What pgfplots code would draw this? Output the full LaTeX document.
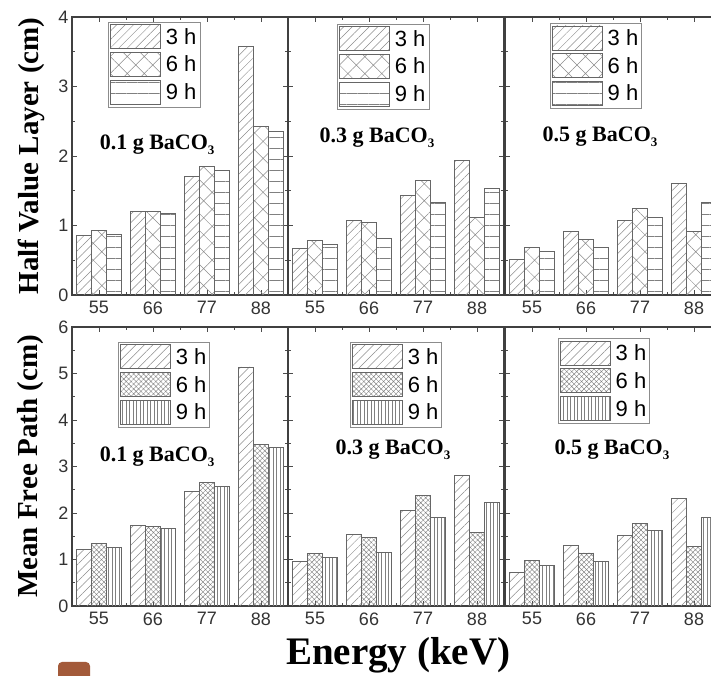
\documentclass[border=0pt]{standalone}
\usepackage{fontspec}
\setmainfont{Liberation Sans}
\newfontfamily\tnr{Liberation Serif}
\usepackage{pgfplots}
\pgfplotsset{compat=1.18}
\usetikzlibrary{patterns.meta}
\definecolor{rust}{HTML}{A35A3A}
\tikzset{plabel/.style={font=\tnr\bfseries\fontsize{22}{24}\selectfont, anchor=center}}
\newcommand{\sub}[1]{\raisebox{-0.45ex}{\fontsize{13}{14}\selectfont #1}}
\pgfplotsset{
  panel/.style={
    ybar=0pt, bar width=15pt, scale only axis, width=216pt,
    xmin=-0.5, xmax=3.5, xtick={0,1,2,3}, xticklabels={55,66,77,88},
    minor x tick num=1, tick align=inside,
    axis line style={line width=1.1pt, draw=black!75},
    major tick length=5pt, minor tick length=3pt,
    tick style={black!70, line width=0.8pt},
    ticklabel style={font=\fontsize{18}{20}\selectfont, text=black!80},
    xticklabel style={yshift=-3pt},
    /pgf/number format/assume math mode=true,
    legend image code/.code={\draw[##1] (0pt,-12pt) rectangle (50pt,12pt);},
    legend cell align=left,
    legend style={anchor=north west, draw=black!45, line width=0.8pt,
      inner sep=2pt, row sep=3pt, font=\fontsize{22}{24}\selectfont,
      nodes={inner sep=1.5pt},
      /tikz/every odd column/.append style={column sep=3pt}},
  },
  toprow/.style={panel, height=278pt, ymin=0, ymax=4, ytick={0,1,2,3,4}, minor y tick num=1},
  botrow/.style={panel, height=279pt, ymin=0, ymax=6, ytick={0,1,2,3,4,5,6}, minor y tick num=1},
  s3/.style={draw=black!60, line width=0.9pt, pattern={Lines[angle=45,distance=6pt,line width=0.5pt]}, pattern color=black!45},
  s6a/.style={draw=black!60, line width=0.9pt, pattern={Hatch[angle=45,distance=12pt,line width=0.5pt]}, pattern color=black!45},
  s9a/.style={draw=black!60, line width=0.9pt, pattern={Lines[angle=0,distance=11pt,line width=0.6pt]}, pattern color=black!50},
  s6b/.style={draw=black!60, line width=0.9pt, pattern={Hatch[angle=45,distance=3.5pt,line width=0.4pt]}, pattern color=black!50},
  s9b/.style={draw=black!60, line width=0.9pt, pattern={Lines[angle=90,distance=3.5pt,line width=0.4pt]}, pattern color=black!50},
}
\begin{document}
\begin{tikzpicture}[x=1pt,y=1pt]
\path[use as bounding box] (0,0) rectangle (711,676);

% ---------- top row ----------
\begin{axis}[toprow, at={(72pt,381pt)}, anchor=south west,
  ylabel={Half Value Layer (cm)},
  ylabel style={at={(axis description cs:-0.19,0.5)}, anchor=center, rotate=0, font=\tnr\bfseries\fontsize{29}{31}\selectfont},
  legend style={at={(0.167,0.982)}}]
\addplot[s3] coordinates {(0,0.85) (1,1.20) (2,1.71) (3,3.57)};
\addplot[s6a] coordinates {(0,0.93) (1,1.20) (2,1.85) (3,2.42)};
\addplot[s9a] coordinates {(0,0.87) (1,1.17) (2,1.79) (3,2.36)};
\legend{3 h,6 h,9 h}
\node[plabel] at (axis description cs:0.394,0.54) {0.1 g BaCO\sub{3}};
\end{axis}

\begin{axis}[toprow, at={(288pt,381pt)}, anchor=south west, yticklabels={},
  legend style={at={(0.227,0.975)}}]
\addplot[s3] coordinates {(0,0.67) (1,1.07) (2,1.43) (3,1.94)};
\addplot[s6a] coordinates {(0,0.79) (1,1.04) (2,1.65) (3,1.11)};
\addplot[s9a] coordinates {(0,0.73) (1,0.81) (2,1.33) (3,1.54)};
\legend{3 h,6 h,9 h}
\node[plabel] at (axis description cs:0.412,0.565) {0.3 g BaCO\sub{3}};
\end{axis}

\begin{axis}[toprow, at={(505pt,381pt)}, anchor=south west, yticklabels={},
  legend style={at={(0.208,0.978)}}]
\addplot[s3] coordinates {(0,0.51) (1,0.91) (2,1.07) (3,1.61)};
\addplot[s6a] coordinates {(0,0.69) (1,0.80) (2,1.24) (3,0.91)};
\addplot[s9a] coordinates {(0,0.62) (1,0.68) (2,1.11) (3,1.33)};
\legend{3 h,6 h,9 h}
\node[plabel] at (axis description cs:0.44,0.568) {0.5 g BaCO\sub{3}};
\end{axis}

% ---------- bottom row ----------
\begin{axis}[botrow, at={(72pt,70pt)}, anchor=south west,
  ylabel={Mean Free Path (cm)},
  ylabel style={at={(axis description cs:-0.19,0.5)}, anchor=center, rotate=0, font=\tnr\bfseries\fontsize{29}{31}\selectfont},
  legend style={at={(0.213,0.946)}}]
\addplot[s3] coordinates {(0,1.21) (1,1.73) (2,2.46) (3,5.14)};
\addplot[s6b] coordinates {(0,1.34) (1,1.72) (2,2.66) (3,3.48)};
\addplot[s9b] coordinates {(0,1.26) (1,1.67) (2,2.58) (3,3.40)};
\legend{3 h,6 h,9 h}
\node[plabel] at (axis description cs:0.394,0.534) {0.1 g BaCO\sub{3}};
\end{axis}

\begin{axis}[botrow, at={(288pt,70pt)}, anchor=south west, yticklabels={},
  xlabel={Energy (keV)},
  xlabel style={at={(axis description cs:0.51,-0.175)}, anchor=center, font=\tnr\bfseries\fontsize{39}{41}\selectfont},
  legend style={at={(0.287,0.946)}}]
\addplot[s3] coordinates {(0,0.95) (1,1.53) (2,2.05) (3,2.81)};
\addplot[s6b] coordinates {(0,1.12) (1,1.48) (2,2.37) (3,1.59)};
\addplot[s9b] coordinates {(0,1.05) (1,1.15) (2,1.91) (3,2.23)};
\legend{3 h,6 h,9 h}
\node[plabel] at (axis description cs:0.486,0.559) {0.3 g BaCO\sub{3}};
\end{axis}

\begin{axis}[botrow, at={(505pt,70pt)}, anchor=south west, yticklabels={},
  legend style={at={(0.245,0.96)}}]
\addplot[s3] coordinates {(0,0.72) (1,1.31) (2,1.52) (3,2.31)};
\addplot[s6b] coordinates {(0,0.98) (1,1.14) (2,1.78) (3,1.29)};
\addplot[s9b] coordinates {(0,0.88) (1,0.96) (2,1.62) (3,1.90)};
\legend{3 h,6 h,9 h}
\node[plabel] at (axis description cs:0.495,0.559) {0.5 g BaCO\sub{3}};
\end{axis}

\fill[rust, rounded corners=4pt] (58,-5) rectangle (90,14);
\end{tikzpicture}
\end{document}
